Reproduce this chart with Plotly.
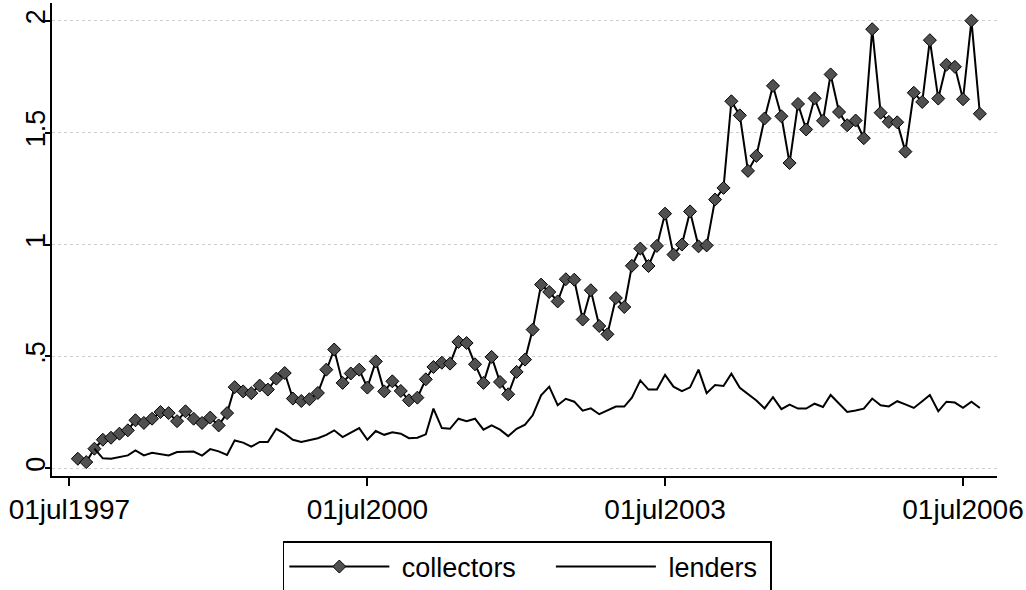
import pandas as pd
import plotly.graph_objects as go

# monthly observations, Aug 1997 - Sep 2006
dates = pd.date_range("1997-08-01", periods=110, freq="MS")

collectors = [
    0.043, 0.028, 0.088, 0.128, 0.137, 0.155, 0.170, 0.215, 0.203, 0.222,
    0.252, 0.247, 0.211, 0.255, 0.222, 0.203, 0.227, 0.192, 0.247, 0.363,
    0.344, 0.336, 0.370, 0.352, 0.401, 0.426, 0.312, 0.301, 0.309, 0.337,
    0.441, 0.531, 0.382, 0.424, 0.441, 0.361, 0.478, 0.344, 0.389, 0.346,
    0.304, 0.316, 0.398, 0.453, 0.472, 0.468, 0.565, 0.560, 0.465, 0.382,
    0.498, 0.386, 0.331, 0.431, 0.486, 0.620, 0.821, 0.788, 0.746, 0.845,
    0.843, 0.665, 0.796, 0.636, 0.599, 0.761, 0.721, 0.905, 0.982, 0.904,
    0.994, 1.138, 0.955, 1.000, 1.148, 0.992, 0.996, 1.201, 1.253, 1.640,
    1.577, 1.329, 1.396, 1.563, 1.709, 1.573, 1.364, 1.628, 1.514, 1.653,
    1.553, 1.760, 1.592, 1.533, 1.554, 1.475, 1.962, 1.589, 1.548, 1.546,
    1.415, 1.678, 1.637, 1.913, 1.652, 1.803, 1.794, 1.649, 2.000, 1.584,
]

lenders = [
    None, None, 0.088, 0.045, 0.043, 0.050, 0.058, 0.080, 0.058, 0.070,
    0.063, 0.058, 0.073, 0.073, 0.075, 0.057, 0.086, 0.076, 0.060, 0.125,
    0.115, 0.097, 0.118, 0.118, 0.177, 0.155, 0.128, 0.118, 0.125, 0.135,
    0.150, 0.170, 0.140, 0.158, 0.180, 0.128, 0.167, 0.150, 0.161, 0.155,
    0.135, 0.137, 0.152, 0.267, 0.180, 0.177, 0.222, 0.211, 0.222, 0.173,
    0.192, 0.173, 0.144, 0.177, 0.195, 0.237, 0.326, 0.365, 0.282, 0.311,
    0.298, 0.258, 0.268, 0.242, 0.259, 0.276, 0.276, 0.316, 0.393, 0.352,
    0.352, 0.418, 0.365, 0.345, 0.362, 0.441, 0.336, 0.372, 0.368, 0.423,
    0.360, 0.330, 0.303, 0.268, 0.318, 0.265, 0.285, 0.267, 0.267, 0.289,
    0.274, 0.328, 0.290, 0.252, 0.259, 0.267, 0.312, 0.282, 0.277, 0.300,
    0.286, 0.270, 0.300, 0.328, 0.255, 0.298, 0.294, 0.271, 0.298, 0.270,
]

x_tick_vals = ["1997-07-01", "2000-07-01", "2003-07-01", "2006-07-01"]
x_tick_text = ["01jul1997", "01jul2000", "01jul2003", "01jul2006"]
y_tick_vals = [0, 0.5, 1, 1.5, 2]
y_tick_text = ["0", ".5", "1", "1.5", "2"]

FONT = "Liberation Sans, Arial, sans-serif"
NB = "\u00a0"

fig = go.Figure()
fig.add_trace(go.Scatter(
    x=dates, y=collectors, name=NB + "collectors" + NB * 4, mode="lines+markers",
    line=dict(color="black", width=2),
    marker=dict(symbol="diamond", size=10, color="#505050",
                line=dict(color="black", width=1)),
))
fig.add_trace(go.Scatter(
    x=dates, y=lenders, name=NB + "lenders" + NB, mode="lines",
    line=dict(color="black", width=2),
))

fig.update_layout(
    width=1026, height=590,
    margin=dict(l=52, r=29, t=3, b=114),
    paper_bgcolor="white", plot_bgcolor="white",
    font=dict(family=FONT, size=27, color="black"),
    showlegend=True,
    legend=dict(
        orientation="h", xref="paper", x=0.503, xanchor="center",
        yref="container", y=1 - 541 / 590, yanchor="top",
        bordercolor="black", borderwidth=1.5, bgcolor="white",
        itemwidth=100, font=dict(size=27, family=FONT),
        traceorder="normal",
    ),
)

fig.update_xaxes(
    type="date", range=["1997-04-28", "2006-11-03"],
    tickvals=x_tick_vals, ticktext=x_tick_text,
    ticks="outside", ticklen=8, tickwidth=1.5, tickcolor="black",
    showline=True, linecolor="black", linewidth=1.5, mirror=False,
    showgrid=False, zeroline=False, automargin=False,
    tickfont=dict(size=28, family=FONT),
)
fig.update_yaxes(
    range=[-0.034, 2.079],
    tickvals=y_tick_vals, ticktext=y_tick_text, tickangle=-90,
    ticks="outside", ticklen=5, tickwidth=1.5, tickcolor="black",
    showline=True, linecolor="black", linewidth=1.5, mirror=False,
    showgrid=True, gridcolor="#cfcfcf", griddash="dot", gridwidth=1,
    zeroline=False, automargin=False, ticklabelstandoff=-11,
    tickfont=dict(size=27, family=FONT),
)

fig.write_html(
    "out.html",
    config={"displayModeBar": False},
    post_script="document.body.style.margin='0';",
)
